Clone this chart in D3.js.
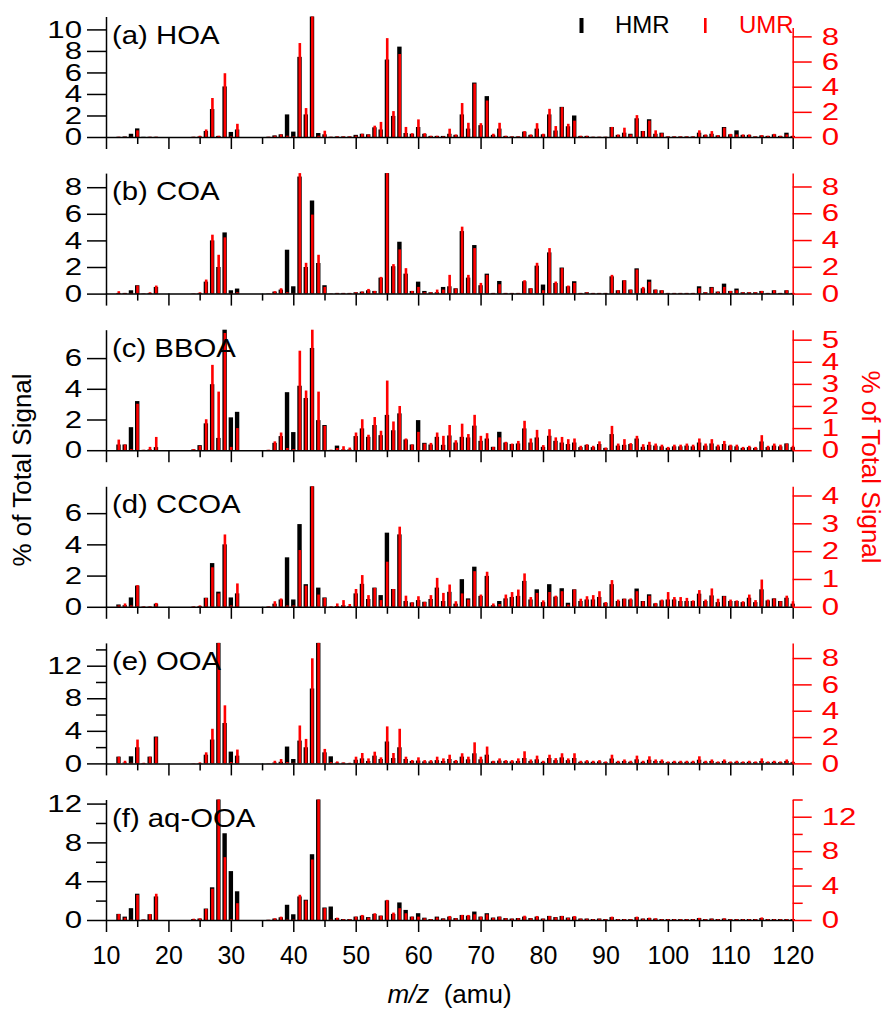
<!DOCTYPE html>
<html>
<head>
<meta charset="utf-8">
<script src="https://cdn.jsdelivr.net/npm/d3@7"></script>
<style>
    body { margin: 0; background: #fff; }
    svg { font-family: "Liberation Sans", Arial, sans-serif; }
</style>
</head>
<body>
<svg id="chart" width="888" height="1012"></svg>
<script>
// m/z 12..120, one value per unit mass
const mz = d3.range(12, 121);

const panelLabels = ["(a) HOA", "(b) COA", "(c) BBOA", "(d) CCOA", "(e) OOA", "(f) aq-OOA"];

const hoaHMR = [
    0.02, 0.05, 0.3, 0.8, 0.02, 0.02, 0.02, 0, 0, 0,
    0, 0, 0.02, 0.05, 0.56, 2.6, 0.1, 4.7, 0.47, 0.7,
    0, 0, 0, 0, 0.02, 0.15, 0.25, 2.1, 0.5, 7.45,
    2.1, 12, 0.37, 0.25, 0.02, 0.05, 0.05, 0.05, 0.2, 0.3,
    0.25, 0.9, 0.7, 7.2, 1.96, 8.4, 0.37, 0.3, 0.93, 0.3,
    0.1, 0.1, 0.1, 0.3, 0.2, 2.1, 0.78, 5.06, 1.1, 3.8,
    0.2, 0.78, 0.1, 0.05, 0.05, 0.5, 0.2, 0.78, 0.25, 2.1,
    0.6, 2.8, 1.0, 2.0, 0.1, 0.1, 0.02, 0.02, 0.02, 0.93,
    0.2, 0.4, 0.3, 1.74, 0.56, 1.65, 0.3, 0.4, 0.05, 0.05,
    0.05, 0.05, 0.05, 0.4, 0.2, 0.3, 0.15, 0.93, 0.25, 0.62,
    0.2, 0.2, 0.05, 0.15, 0.1, 0.25, 0.1, 0.4, 0.1
];
const hoaUMR = [
    0.02, 0.02, 0.02, 0.53, 0, 0.02, 0.02, 0, 0, 0,
    0, 0, 0.02, 0.1, 0.6, 3.1, 0.1, 5.07, 0.05, 1.05,
    0, 0, 0, 0, 0.02, 0.1, 0.2, 0.1, 0.05, 7.47,
    2.3, 10, 0.1, 0.5, 0.02, 0.05, 0.05, 0.05, 0.1, 0.26,
    0.2, 0.9, 1.2, 7.86, 2.06, 6.6, 0.8, 0.3, 1.4, 0.3,
    0.1, 0.1, 0.05, 0.66, 0.2, 2.7, 1.13, 4.25, 1.1, 2.9,
    0.26, 1.13, 0.1, 0.05, 0.05, 0.47, 0.2, 1.1, 0.26, 2.24,
    0.87, 2.37, 1.05, 1.3, 0.1, 0.1, 0.02, 0.02, 0.02, 0.8,
    0.2, 0.74, 0.2, 1.74, 0.47, 1.3, 0.53, 0.3, 0.05, 0.05,
    0.05, 0.05, 0.05, 0.53, 0.2, 0.47, 0.15, 0.74, 0.25, 0.2,
    0.2, 0.2, 0.05, 0.15, 0.1, 0.25, 0.1, 0.2, 0.1
];

const coaHMR = [
    0.05, 0.05, 0.25, 0.63, 0.02, 0.05, 0.5, 0, 0, 0,
    0, 0, 0.02, 0.05, 0.9, 4.0, 2.0, 4.6, 0.25, 0.38,
    0, 0, 0, 0, 0.02, 0.15, 0.3, 3.3, 0.55, 8.8,
    2.0, 7.0, 2.3, 0.63, 0.02, 0.05, 0.05, 0.05, 0.1, 0.15,
    0.25, 0.2, 1.2, 9.5, 2.06, 3.9, 1.5, 0.2, 0.9, 0.2,
    0.1, 0.1, 0.5, 0.55, 0.4, 4.7, 1.2, 3.65, 0.63, 1.5,
    0.05, 0.95, 0.05, 0.05, 0.05, 0.93, 0.4, 2.1, 0.68, 3.1,
    0.8, 1.96, 0.55, 0.93, 0.05, 0.1, 0.05, 0.05, 0.05, 1.3,
    0.25, 1.0, 0.3, 1.9, 0.4, 1.05, 0.3, 0.25, 0.05, 0.05,
    0.05, 0.05, 0.05, 0.55, 0.1, 0.5, 0.15, 0.75, 0.2, 0.38,
    0.1, 0.1, 0.1, 0.2, 0.05, 0.25, 0.05, 0.25, 0.05
];
const coaUMR = [
    0.18, 0.05, 0.05, 0.6, 0.02, 0.1, 0.6, 0, 0, 0,
    0, 0, 0.02, 0.1, 1.05, 4.4, 2.9, 4.2, 0.05, 0.1,
    0, 0, 0, 0, 0.02, 0.18, 0.4, 0.1, 0.05, 9.5,
    2.3, 5.9, 2.9, 0.5, 0.02, 0.05, 0.05, 0.05, 0.1, 0.15,
    0.35, 0.2, 1.25, 9.5, 2.2, 3.3, 1.9, 0.2, 0.5, 0.1,
    0.1, 0.3, 0.3, 1.4, 0.38, 5.0, 1.4, 3.4, 0.8, 1.4,
    0.05, 0.7, 0.05, 0.05, 0.05, 1.0, 0.4, 2.3, 0.25, 3.4,
    0.9, 1.9, 0.6, 0.8, 0.05, 0.1, 0.05, 0.05, 0.05, 1.4,
    0.25, 1.0, 0.3, 1.8, 0.5, 0.88, 0.3, 0.25, 0.05, 0.05,
    0.05, 0.05, 0.05, 0.4, 0.1, 0.45, 0.15, 0.5, 0.2, 0.25,
    0.1, 0.1, 0.1, 0.2, 0.05, 0.25, 0.05, 0.25, 0.05
];

const bboaHMR = [
    0.37, 0.37, 1.5, 3.2, 0.02, 0.05, 0.2, 0, 0, 0,
    0, 0, 0.05, 0.33, 1.75, 4.3, 0.8, 8.0, 2.14, 2.5,
    0, 0, 0, 0, 0.02, 0.48, 0.92, 3.78, 1.18, 4.2,
    3.4, 6.66, 1.96, 1.64, 0.02, 0.3, 0.05, 0.05, 0.92, 1.42,
    0.87, 1.64, 0.98, 2.3, 1.3, 2.4, 0.7, 0.37, 1.96, 0.48,
    0.37, 0.87, 0.35, 0.96, 0.5, 0.87, 0.83, 1.6, 0.61, 0.76,
    0.22, 1.2, 0.5, 0.4, 0.44, 1.42, 0.5, 0.83, 0.22, 0.94,
    0.61, 0.5, 0.4, 0.5, 0.2, 0.35, 0.2, 0.4, 0.15, 1.05,
    0.3, 0.35, 0.4, 0.76, 0.22, 0.35, 0.3, 0.25, 0.15, 0.25,
    0.25, 0.3, 0.25, 0.5, 0.3, 0.44, 0.25, 0.4, 0.3, 0.25,
    0.15, 0.2, 0.15, 0.57, 0.2, 0.3, 0.25, 0.44, 0.2
];
const bboaUMR = [
    0.48, 0.26, 0.05, 2.1, 0.02, 0.15, 0.6, 0, 0, 0,
    0, 0, 0.05, 0.2, 1.4, 3.86, 2.65, 5.3, 0.15, 1.0,
    0, 0, 0, 0, 0.02, 0.4, 0.8, 0.1, 0.05, 4.5,
    2.7, 5.6, 2.65, 1.1, 0.02, 0.1, 0.18, 0.12, 0.8, 1.4,
    0.7, 1.5, 0.88, 3.15, 1.3, 2.0, 0.53, 0.26, 0.83, 0.3,
    0.33, 0.8, 0.65, 1.14, 0.45, 1.2, 0.73, 1.6, 0.65, 0.77,
    0.15, 0.58, 0.38, 0.3, 0.42, 1.33, 0.53, 0.92, 0.23, 0.95,
    0.58, 0.6, 0.5, 0.53, 0.2, 0.27, 0.2, 0.4, 0.12, 1.1,
    0.3, 0.5, 0.32, 0.65, 0.27, 0.38, 0.3, 0.25, 0.15, 0.25,
    0.25, 0.3, 0.25, 0.53, 0.3, 0.5, 0.25, 0.42, 0.25, 0.25,
    0.15, 0.2, 0.15, 0.68, 0.2, 0.3, 0.25, 0.3, 0.2
];

const ccoaHMR = [
    0.15, 0.1, 0.6, 1.36, 0.02, 0.02, 0.2, 0, 0, 0,
    0, 0, 0.02, 0.05, 0.58, 2.8, 0.97, 4.0, 0.6, 0.86,
    0, 0, 0, 0, 0.02, 0.2, 0.47, 3.17, 0.47, 5.3,
    1.45, 9, 1.23, 0.6, 0.02, 0.05, 0.1, 0.05, 0.86, 1.47,
    0.5, 1.23, 0.75, 4.75, 1.14, 4.64, 0.37, 0.28, 0.43, 0.32,
    0.5, 1.23, 0.37, 0.96, 0.2, 1.77, 0.54, 2.57, 0.7, 1.98,
    0.1, 0.37, 0.54, 0.63, 0.7, 1.66, 0.47, 1.12, 0.3, 1.45,
    0.65, 1.19, 0.26, 1.12, 0.37, 0.47, 0.47, 0.63, 0.26, 1.45,
    0.37, 0.52, 0.47, 1.17, 0.37, 0.8, 0.22, 0.41, 0.47, 0.47,
    0.37, 0.37, 0.37, 0.84, 0.37, 0.73, 0.3, 0.7, 0.37, 0.37,
    0.3, 0.58, 0.3, 1.12, 0.41, 0.54, 0.37, 0.58, 0.2
];
const ccoaUMR = [
    0.05, 0.12, 0.05, 0.78, 0.02, 0.02, 0.14, 0, 0, 0,
    0, 0, 0.02, 0.05, 0.32, 1.42, 0.48, 2.6, 0.05, 0.84,
    0, 0, 0, 0, 0.02, 0.2, 0.3, 0.05, 0.05, 2.04,
    0.76, 4.7, 0.44, 0.32, 0.02, 0.12, 0.24, 0.1, 0.64, 1.14,
    0.42, 0.68, 0.24, 1.62, 0.64, 2.88, 0.4, 0.16, 0.38, 0.18,
    0.42, 1.04, 0.5, 0.8, 0.2, 0.48, 0.26, 1.28, 0.44, 1.26,
    0.12, 0.1, 0.44, 0.53, 0.62, 1.2, 0.35, 0.5, 0.23, 0.53,
    0.4, 0.56, 0.08, 0.62, 0.29, 0.38, 0.42, 0.56, 0.17, 0.96,
    0.26, 0.29, 0.3, 0.56, 0.2, 0.4, 0.14, 0.26, 0.53, 0.35,
    0.35, 0.32, 0.23, 0.6, 0.26, 0.66, 0.29, 0.38, 0.26, 0.23,
    0.2, 0.44, 0.24, 0.98, 0.26, 0.3, 0.2, 0.4, 0.2
];

const ooaHMR = [
    0.83, 0.1, 0.87, 1.98, 0.05, 0.83, 3.3, 0, 0, 0,
    0, 0, 0.02, 0.05, 1.07, 2.93, 15.5, 4.96, 1.45, 0.95,
    0, 0, 0, 0, 0.02, 0.1, 0.2, 2.07, 0.54, 2.8,
    1.98, 9.2, 15.5, 1.36, 0.87, 0.1, 0.08, 0.05, 0.45, 0.62,
    0.3, 0.95, 0.54, 2.69, 0.66, 1.98, 0.54, 0.3, 0.35, 0.25,
    0.25, 0.4, 0.3, 0.54, 0.3, 0.83, 0.5, 1.24, 0.5, 1.07,
    0.25, 0.35, 0.3, 0.25, 0.3, 0.66, 0.3, 0.5, 0.2, 0.66,
    0.4, 0.74, 0.4, 0.66, 0.2, 0.25, 0.2, 0.25, 0.15, 0.6,
    0.2, 0.3, 0.2, 0.5, 0.2, 0.45, 0.3, 0.3, 0.15, 0.2,
    0.2, 0.2, 0.2, 0.45, 0.2, 0.3, 0.15, 0.3, 0.15, 0.2,
    0.15, 0.2, 0.15, 0.3, 0.15, 0.2, 0.15, 0.3, 0.15
];
const ooaUMR = [
    0.51, 0.2, 0.05, 1.81, 0.05, 0.51, 1.99, 0, 0, 0,
    0, 0, 0.02, 0.08, 0.84, 2.63, 9.6, 4.41, 0.1, 1.05,
    0, 0, 0, 0, 0.02, 0.2, 0.33, 0.1, 0.05, 2.88,
    1.86, 7.98, 9.6, 1.1, 0.1, 0.15, 0.08, 0.05, 0.51, 0.79,
    0.38, 0.89, 0.46, 2.81, 0.79, 2.63, 0.51, 0.26, 0.46, 0.25,
    0.25, 0.51, 0.38, 0.66, 0.26, 0.77, 0.51, 1.6, 0.51, 1.28,
    0.2, 0.38, 0.25, 0.25, 0.38, 0.92, 0.3, 0.59, 0.2, 0.66,
    0.4, 0.77, 0.38, 0.77, 0.2, 0.25, 0.2, 0.25, 0.15, 0.66,
    0.2, 0.3, 0.2, 0.59, 0.2, 0.54, 0.3, 0.3, 0.15, 0.2,
    0.2, 0.2, 0.2, 0.54, 0.2, 0.3, 0.15, 0.3, 0.15, 0.2,
    0.15, 0.2, 0.15, 0.38, 0.15, 0.2, 0.15, 0.3, 0.15
];

const aqooaHMR = [
    0.63, 0.35, 1.22, 2.71, 0.05, 0.6, 2.43, 0, 0, 0,
    0, 0, 0.1, 0.15, 1.18, 3.37, 13, 8.94, 5.04, 2.96,
    0, 0, 0, 0, 0.02, 0.15, 0.28, 1.57, 0.59, 2.43,
    2.09, 6.78, 13, 1.29, 1.39, 0.2, 0.1, 0.1, 0.35, 0.45,
    0.3, 0.63, 0.45, 2.02, 0.63, 1.81, 1.04, 0.35, 0.7, 0.24,
    0.1, 0.35, 0.17, 0.35, 0.2, 0.52, 0.45, 0.87, 0.35, 0.7,
    0.25, 0.35, 0.2, 0.15, 0.2, 0.35, 0.2, 0.35, 0.15, 0.42,
    0.3, 0.42, 0.25, 0.35, 0.15, 0.15, 0.1, 0.15, 0.1, 0.3,
    0.1, 0.1, 0.1, 0.3, 0.15, 0.2, 0.15, 0.1, 0.1, 0.1,
    0.1, 0.1, 0.1, 0.2, 0.1, 0.15, 0.1, 0.15, 0.1, 0.1,
    0.1, 0.1, 0.1, 0.2, 0.1, 0.1, 0.1, 0.1, 0.1
];
const aqooaUMR = [
    0.7, 0.27, 0.05, 2.93, 0.05, 0.7, 3.05, 0, 0, 0,
    0, 0, 0.15, 0.2, 1.29, 3.63, 14.5, 7.3, 0.1, 1.95,
    0, 0, 0, 0, 0.02, 0.2, 0.39, 0.05, 0.05, 2.93,
    2.27, 7.03, 14.5, 1.37, 0.05, 0.27, 0.1, 0.1, 0.39, 0.59,
    0.27, 0.78, 0.5, 2.34, 0.86, 1.37, 0.78, 0.39, 0.39, 0.2,
    0.1, 0.3, 0.15, 0.47, 0.2, 0.59, 0.59, 0.66, 0.39, 0.66,
    0.25, 0.39, 0.2, 0.15, 0.2, 0.5, 0.2, 0.47, 0.15, 0.47,
    0.3, 0.47, 0.25, 0.47, 0.15, 0.15, 0.1, 0.15, 0.1, 0.39,
    0.1, 0.1, 0.1, 0.39, 0.15, 0.27, 0.2, 0.1, 0.1, 0.1,
    0.1, 0.1, 0.1, 0.25, 0.1, 0.15, 0.1, 0.2, 0.1, 0.1,
    0.1, 0.1, 0.1, 0.3, 0.1, 0.1, 0.1, 0.1, 0.1
];

// axis extents and tick labels (left = HMR, right = UMR)
const leftMax = [11.2, 9.06, 7.85, 7.72, 14.8, 12.42];
const rightMax = [9.58, 9.0, 5.45, 4.33, 9.15, 14];
const leftTicks = [[0, 2, 4, 6, 8, 10], [0, 2, 4, 6, 8], [0, 2, 4, 6], [0, 2, 4, 6], [0, 4, 8, 12], [0, 4, 8, 12]];
const leftMinor = [[], [], [], [], [2, 6, 10, 14], [2, 6, 10]];
const rightTicks = [[0, 2, 4, 6, 8], [0, 2, 4, 6, 8], [0, 1, 2, 3, 4, 5], [0, 1, 2, 3, 4], [0, 2, 4, 6, 8], [0, 4, 8, 12]];
const rightMinor = [[], [], [], [], [], [2, 6, 10, 14]];
const xMajor = d3.range(10, 121, 10);
const xMinor = d3.range(15, 120, 10);

const hmrSeries = [hoaHMR, coaHMR, bboaHMR, ccoaHMR, ooaHMR, aqooaHMR];
const umrSeries = [hoaUMR, coaUMR, bboaUMR, ccoaUMR, ooaUMR, aqooaUMR];

const RED = "#ff0000";
const svg = d3.select("#chart");

const x = d3.scaleLinear().domain([10, 120]).range([106, 792.7]);
const firstTop = 16.5, step = 156.6, plotH = 120.5;

function styleAxis(g, color, size) {
    g.attr("font-family", null).attr("font-size", size);
    g.selectAll("path, line").attr("stroke", color).attr("stroke-width", 1.5);
    g.selectAll("text").attr("fill", color);
}

// the y tick labels of the original are drawn wide
function widen(g, sx) {
    g.selectAll(".tick text").each(function() {
        const t = d3.select(this);
        const tx = +t.attr("x");
        t.attr("x", 0).attr("transform", `translate(${tx},0) scale(${sx},1)`);
    });
}

panelLabels.forEach((label, i) => {
    const top = firstTop + i * step;
    const base = top + plotH;
    const yL = d3.scaleLinear().domain([0, leftMax[i]]).range([base, top]).clamp(true);
    const yR = d3.scaleLinear().domain([0, rightMax[i]]).range([base, top]).clamp(true);
    const last = i === panelLabels.length - 1;

    const rows = mz.map((m, j) => ({ mz: m, hmr: hmrSeries[i][j], umr: umrSeries[i][j] }));
    const g = svg.append("g").attr("class", "panel");

    g.selectAll(".hmr")
        .data(rows)
        .join("rect")
        .attr("class", "hmr")
        .attr("x", d => x(d.mz) - 2.2)
        .attr("width", 4.4)
        .attr("y", d => yL(d.hmr))
        .attr("height", d => base - yL(d.hmr))
        .attr("fill", "#000");

    g.selectAll(".umr")
        .data(rows)
        .join("rect")
        .attr("class", "umr")
        .attr("x", d => x(d.mz) - 1.0)
        .attr("width", 2.6)
        .attr("y", d => yR(d.umr))
        .attr("height", d => base - yR(d.umr))
        .attr("fill", RED);

    // x axis (labels only on the bottom panel)
    const xa = g.append("g").attr("transform", `translate(0,${base})`)
        .call(d3.axisBottom(x).tickValues(xMajor).tickSize(12).tickSizeOuter(0)
            .tickPadding(14).tickFormat(last ? d3.format("d") : ""));
    styleAxis(xa, "#000", 25);
    const xm = g.append("g").attr("transform", `translate(0,${base})`)
        .call(d3.axisBottom(x).tickValues(xMinor).tickSize(7).tickFormat(""));
    styleAxis(xm, "#000", 25);
    xm.select(".domain").remove();

    // left axis
    const la = g.append("g").attr("transform", `translate(${x.range()[0]},0)`)
        .call(d3.axisLeft(yL).tickValues(leftTicks[i]).tickSize(19).tickSizeOuter(0)
            .tickPadding(5).tickFormat(d3.format("d")));
    styleAxis(la, "#000", 24);
    widen(la, 1.3);
    const lm = g.append("g").attr("transform", `translate(${x.range()[0]},0)`)
        .call(d3.axisLeft(yL).tickValues(leftMinor[i]).tickSize(10).tickFormat(""));
    styleAxis(lm, "#000", 24);
    lm.select(".domain").remove();

    // right axis
    const ra = g.append("g").attr("transform", `translate(${x.range()[1]},0)`)
        .call(d3.axisRight(yR).tickValues(rightTicks[i]).tickSize(19).tickSizeOuter(0)
            .tickPadding(10).tickFormat(d3.format("d")));
    styleAxis(ra, RED, 24);
    widen(ra, 1.3);
    const rm = g.append("g").attr("transform", `translate(${x.range()[1]},0)`)
        .call(d3.axisRight(yR).tickValues(rightMinor[i]).tickSize(10).tickFormat(""));
    styleAxis(rm, RED, 24);
    rm.select(".domain").remove();

    g.append("text")
        .attr("transform", `translate(112,${top + 27}) scale(1.15,1)`)
        .attr("font-size", 25.5)
        .text(label);
});

// legend
const legend = svg.append("g");
legend.append("rect").attr("x", 570).attr("y", 6).attr("width", 232).attr("height", 22).attr("fill", "#fff");
legend.append("rect").attr("x", 579.5).attr("y", 18).attr("width", 4).attr("height", 15).attr("fill", "#000");
legend.append("text").attr("x", 615).attr("y", 33).attr("font-size", 24).text("HMR");
legend.append("rect").attr("x", 704).attr("y", 18).attr("width", 2.6).attr("height", 15).attr("fill", RED);
legend.append("text").attr("x", 739).attr("y", 33).attr("font-size", 24).attr("fill", RED).text("UMR");

// axis titles
svg.append("text")
    .attr("transform", "translate(31,470) rotate(-90)")
    .attr("text-anchor", "middle")
    .attr("font-size", 26)
    .text("% of Total Signal");

svg.append("text")
    .attr("transform", "translate(862,467) rotate(90)")
    .attr("text-anchor", "middle")
    .attr("font-size", 26)
    .attr("fill", RED)
    .text("% of Total Signal");

const xt = svg.append("text")
    .attr("x", 449.5)
    .attr("y", 1003)
    .attr("text-anchor", "middle")
    .attr("font-size", 26);
xt.append("tspan").attr("font-style", "italic").text("m/z");
xt.append("tspan").attr("xml:space", "preserve").text("  (amu)");
</script>
</body>
</html>
